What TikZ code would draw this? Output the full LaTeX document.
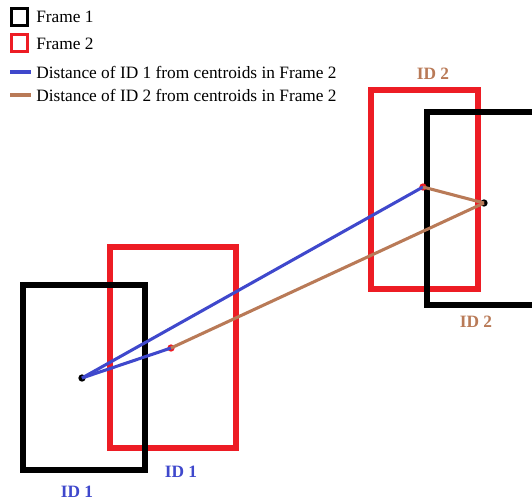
\documentclass[tikz,border=0pt]{standalone}
\usepackage{fontspec}
\setmainfont{Liberation Serif}
\definecolor{fred}{HTML}{ED1C24}
\definecolor{dblue}{HTML}{3F48CC}
\definecolor{dbrown}{HTML}{B97A57}
\tikzset{
  frameone/.style={draw=black, line width=4.5pt},
  frametwo/.style={draw=fred, line width=4.5pt},
  legbox/.style={line width=2.4pt},
  blueline/.style={draw=dblue, line width=2.3pt},
  brownline/.style={draw=dbrown, line width=2.3pt},
  legtext/.style={anchor=west, inner sep=0pt, font=\fontsize{13}{15}\selectfont},
  idlabel/.style={inner sep=0pt, font=\fontsize{13}{15}\selectfont\bfseries},
  dot/.style={circle, inner sep=0pt, minimum size=5.5pt, fill=#1}
}
\begin{document}
\begin{tikzpicture}[x=0.75pt, y=-0.75pt]
\useasboundingbox (0,0) rectangle (532,500);
\clip (0,0) rectangle (532,500);
% legend
\draw[legbox, draw=black] (11.5,8.5) rectangle (27.5,25.5);
\node[legtext] (l1) at (36,17) {Frame 1};
\draw[legbox, draw=fred] (11.5,34.5) rectangle (27.5,51.5);
\node[legtext] (l2) at (36,44) {Frame 2};
\coordinate (b1) at (10,72);
\coordinate (b2) at (31,72);
\draw[blueline] (b1) -- (b2);
\node[legtext] (l3) at (36,72) {Distance of ID 1 from centroids in Frame 2};
\coordinate (r1) at (10,95);
\coordinate (r2) at (31,95);
\draw[brownline] (r1) -- (r2);
\node[legtext] (l4) at (36,95) {Distance of ID 2 from centroids in Frame 2};
% boxes
\draw[frametwo] (110,247) rectangle (236,448);
\draw[frametwo] (371,90) rectangle (478,289);
\draw[frameone] (23,285) rectangle (145,470);
\draw[frameone] (560,112) -- (427,112) -- (427,305) -- (560,305);
% centroids
\node[dot=black] (c1) at (82,378) {};
\node[dot=fred] (d1) at (171,348) {};
\node[dot=fred] (d2) at (423,187) {};
\node[dot=black] (c2) at (484,203) {};
% distances
\draw[blueline] (c1.center) -- (d1.center);
\draw[blueline] (c1.center) -- (d2.center);
\draw[brownline] (c2.center) -- (d1.center);
\draw[brownline] (c2.center) -- (d2.center);
% labels
\node[idlabel, text=dbrown] (t1) at (433,74) {ID 2};
\node[idlabel, text=dbrown] (t2) at (476,322) {ID 2};
\node[idlabel, text=dblue] (t3) at (181,472) {ID 1};
\node[idlabel, text=dblue] (t4) at (77,492) {ID 1};
\end{tikzpicture}
\end{document}
